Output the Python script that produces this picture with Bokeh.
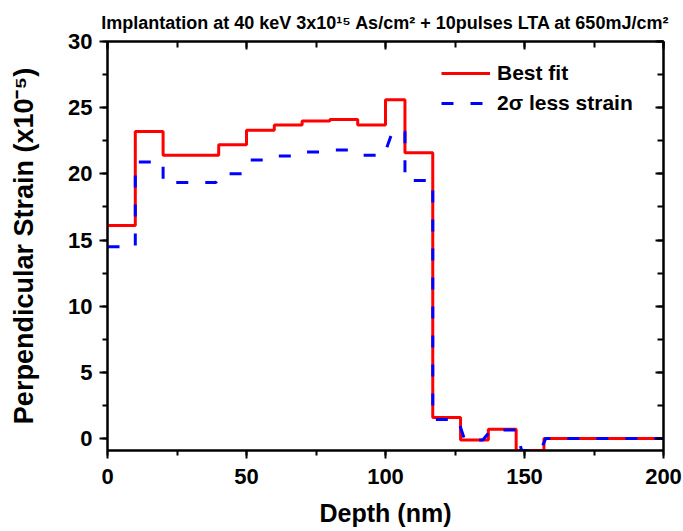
from bokeh.plotting import figure
from bokeh.models import Range1d, LinearAxis, SingleIntervalTicker, Legend, LegendItem, CustomJSTickFormatter
from bokeh.embed import file_html
from bokeh.resources import INLINE

# Layer boundaries (nm) and best-fit strain per layer (x10^-5)
edges = [0, 10, 20, 30, 40, 50, 60, 70, 80, 90, 100, 107, 117, 127, 137, 147, 157, 200]
best_fit = [16.1, 23.2, 21.4, 21.4, 22.2, 23.3, 23.7, 24.0, 24.1, 23.7, 25.6, 21.6, 1.6, -0.1, 0.7, -0.9, 0.0]

# "2 sigma less strain" profile, read as a polyline
less_x = [0, 10, 10, 20, 20, 39, 41, 48.5, 51.5, 58.5, 61.5, 67.5, 71, 77, 80.5, 86.5, 90.5,
          99.5, 102.5, 107, 107, 117, 117, 126, 128.5, 135, 138, 146.8, 149, 155.8, 157.6, 200]
less_y = [14.5, 14.5, 20.9, 20.9, 19.35, 19.35, 20.0, 20.0, 21.05, 21.05, 21.35, 21.35, 21.65, 21.65,
          21.8, 21.8, 21.4, 21.4, 23.2, 23.2, 19.5, 19.5, 1.45, 1.45, -0.1, -0.1, 0.65, 0.65, -0.9,
          -0.9, 0.0, 0.0]

x_major = 50
y_major = 5

FONT = "Liberation Sans"

p = figure(width=683, height=531, output_backend="svg", toolbar_location=None,
           x_range=Range1d(0, 200), y_range=Range1d(-0.9, 30),
           min_border_left=107, min_border_right=20, min_border_top=41, min_border_bottom=81,
           x_axis_label="Depth (nm)", y_axis_label="Perpendicular Strain (x10\u207b\u2075)")

p.title.text = "Implantation at 40 keV 3x10\u00b9\u2075 As/cm\u00b2 + 10pulses LTA at 650mJ/cm\u00b2"
p.title.align = "center"
p.title.text_font = FONT
p.title.text_font_style = "bold"
p.title.text_font_size = "18px"
p.title.text_color = "black"
p.title.standoff = 18

p.grid.visible = False
p.outline_line_color = "black"
p.outline_line_width = 2
p.background_fill_color = "white"
p.border_fill_color = "white"

for ax in p.xaxis + p.yaxis:
    ax.axis_line_width = 2
    ax.major_tick_line_width = 2
    ax.minor_tick_line_width = 2
    ax.major_tick_in = 0
    ax.major_tick_out = 8
    ax.minor_tick_in = 0
    ax.minor_tick_out = 5
    ax.major_label_text_font = FONT
    ax.major_label_text_font_style = "bold"
    ax.major_label_text_font_size = "22px"
    ax.major_label_text_color = "black"
    ax.axis_label_text_font = FONT
    ax.axis_label_text_font_style = "bold"
    ax.axis_label_text_color = "black"

p.xaxis.axis_label_text_font_size = "25px"
p.yaxis.axis_label_text_font_size = "27px"
p.xaxis.ticker = SingleIntervalTicker(interval=x_major, num_minor_ticks=2)
p.yaxis.ticker = SingleIntervalTicker(interval=y_major, num_minor_ticks=2)
p.xaxis.major_label_standoff = 10
p.yaxis.major_label_standoff = 7
p.xaxis.axis_label_standoff = 12
p.yaxis.axis_label_standoff = 26

blank = CustomJSTickFormatter(code="return ''")
top = LinearAxis(ticker=SingleIntervalTicker(interval=x_major, num_minor_ticks=2), formatter=blank,
                 major_tick_in=8, major_tick_out=0, minor_tick_in=6, minor_tick_out=0,
                 axis_line_width=2, major_tick_line_width=2, minor_tick_line_width=2,
                 major_label_standoff=0, major_label_text_font_size="1px")
right = LinearAxis(ticker=SingleIntervalTicker(interval=y_major, num_minor_ticks=2), formatter=blank,
                   major_tick_in=8, major_tick_out=0, minor_tick_in=6, minor_tick_out=0,
                   axis_line_width=2, major_tick_line_width=2, minor_tick_line_width=2,
                   major_label_standoff=0, major_label_text_font_size="1px")
p.add_layout(top, "above")
p.add_layout(right, "right")

step_x = edges[:-1] + [edges[-1]]
step_y = best_fit + [best_fit[-1]]
r1 = p.step(step_x, step_y, mode="after", line_color="#ff0000", line_width=3)
r2 = p.line(less_x, less_y, line_color="#0000ff", line_width=3, line_dash="12 17")

legend = Legend(items=[LegendItem(label="Best fit", renderers=[r1]),
                       LegendItem(label="2\u03c3 less strain", renderers=[r2])],
                location=(334, 332), border_line_color=None, background_fill_alpha=0,
                margin=0, padding=0, spacing=0, glyph_width=49, glyph_height=30,
                label_height=30, label_standoff=7, label_text_color="black",
                label_text_font=FONT, label_text_font_style="bold", label_text_font_size="21px")
p.add_layout(legend, "center")

open("out.html", "w").write(file_html(p, INLINE))
